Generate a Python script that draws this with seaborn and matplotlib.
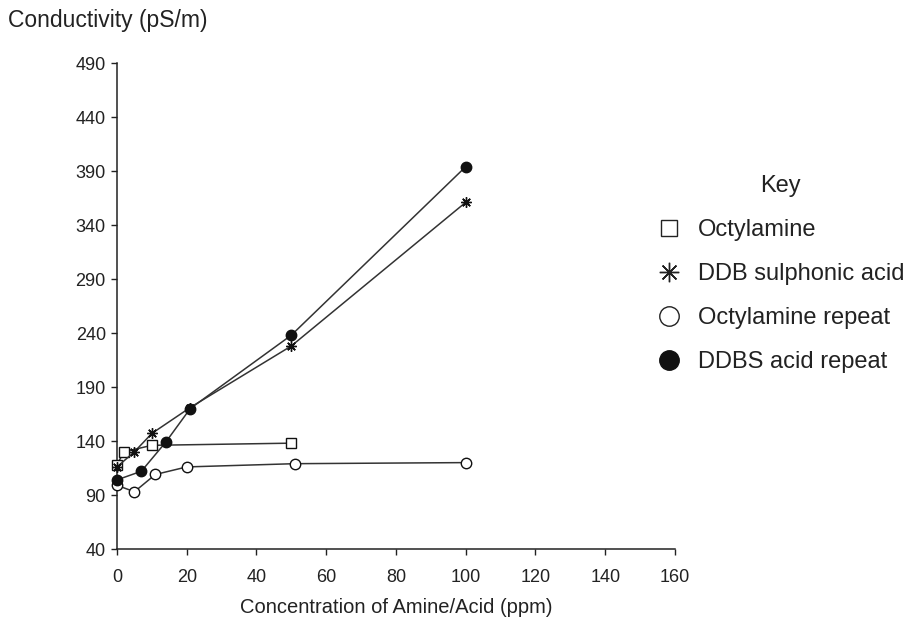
import pandas as pd
import seaborn as sns
import matplotlib.pyplot as plt
from matplotlib.lines import Line2D

# values
oct_x = [0, 2, 10, 50]
oct_y = [118, 130, 136, 138]

ddb_x = [0, 5, 10, 21, 50, 100]
ddb_y = [116, 130, 147, 171, 228, 361]

oct_rep_x = [0, 5, 11, 20, 51, 100]
oct_rep_y = [99, 93, 109, 116, 119, 120]

ddbs_rep_x = [0, 7, 14, 21, 50, 100]
ddbs_rep_y = [104, 112, 139, 170, 238, 394]

labels = ['Octylamine', 'DDB sulphonic acid', 'Octylamine repeat', 'DDBS acid repeat']
x_ticks = list(range(0, 161, 20))
y_ticks = list(range(40, 491, 50))

sns.set_style('white')
plt.rcParams['font.family'] = ['Liberation Sans', 'DejaVu Sans']

fig = plt.figure(figsize=(9.11, 6.27), dpi=100)
ax = fig.add_axes([0.1284, 0.1244, 0.6125, 0.7751])

line_col = '#333333'
series = [
    (oct_x, oct_y, dict(marker='s', markerfacecolor='white', markersize=6.5)),
    (ddb_x, ddb_y, dict(marker=(8, 2, 0), markersize=7.5)),
    (oct_rep_x, oct_rep_y, dict(marker='o', markerfacecolor='white', markersize=7.5)),
    (ddbs_rep_x, ddbs_rep_y, dict(marker='o', markerfacecolor='#111111', markersize=7.5)),
]
for (xs, ys, style), lab in zip(series, labels):
    df = pd.DataFrame({'x': xs, 'y': ys})
    sns.lineplot(data=df, x='x', y='y', ax=ax, color=line_col, linewidth=1.1,
                 markeredgecolor='#111111', markeredgewidth=1.0, clip_on=False,
                 zorder=3, **style)

ax.set_xlim(0, 160)
ax.set_ylim(40, 490)
ax.set_xticks(x_ticks)
ax.set_yticks(y_ticks)
ax.tick_params(axis='both', direction='out', length=4.5, width=1, colors='#222222',
               labelsize=13, labelcolor='#222222', left=True, bottom=True)
ax.tick_params(axis='x', pad=10)
for s in ['top', 'right']:
    ax.spines[s].set_visible(False)
for s in ['left', 'bottom']:
    ax.spines[s].set_color('#222222')
    ax.spines[s].set_linewidth(1.1)

ax.set_xlabel('Concentration of Amine/Acid (ppm)', fontsize=14.5, color='#222222', labelpad=8.5)
ax.set_ylabel('')
fig.text(0.009, 0.968, 'Conductivity (pS/m)', fontsize=16.5, color='#222222', va='center')

handles = [
    Line2D([], [], linestyle='none', marker='s', markersize=12, markerfacecolor='white',
           markeredgecolor='#222222', markeredgewidth=1.0),
    Line2D([], [], linestyle='none', marker=(8, 2, 0), markersize=14,
           markeredgecolor='#222222', markeredgewidth=1.0),
    Line2D([], [], linestyle='none', marker='o', markersize=14, markerfacecolor='white',
           markeredgecolor='#222222', markeredgewidth=1.0),
    Line2D([], [], linestyle='none', marker='o', markersize=14, markerfacecolor='#111111',
           markeredgecolor='#111111', markeredgewidth=1.0),
]
leg = fig.legend(handles, labels, title='Key', loc='upper left',
                 bbox_to_anchor=(0.698, 0.7545), frameon=False, fontsize=17,
                 title_fontsize=17, labelspacing=0.93, handletextpad=0.72,
                 handlelength=1.0)
leg.get_title().set_color('#222222')
for t in leg.get_texts():
    t.set_color('#222222')

fig.savefig('out.png', dpi=100)
